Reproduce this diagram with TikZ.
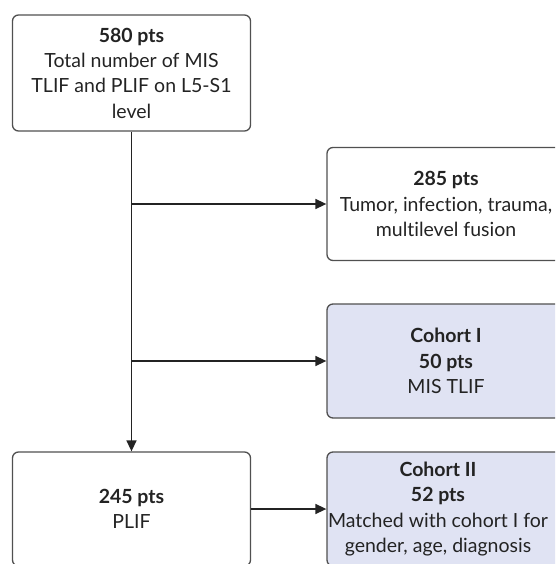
\documentclass[tikz,border=0pt]{standalone}
\usepackage{fontspec}
\setmainfont{Lato}[Ligatures=NoCommon]
\usetikzlibrary{arrows.meta}
\definecolor{cohortfill}{RGB}{224,227,243}
\definecolor{framegray}{RGB}{80,80,80}
\definecolor{inkgray}{RGB}{35,35,35}
\begin{document}
\begin{tikzpicture}[x=1pt,y=-1pt,
  box/.style={draw=framegray,line width=1.3pt,rounded corners=6pt,
    minimum width=238pt,minimum height=114pt,align=center,text=inkgray,
    font=\fontsize{19.5}{25.3}\selectfont},
  cohortbox/.style={box,fill=cohortfill},
  flow/.style={draw=inkgray,line width=1.5pt,-{Triangle[length=11pt,width=10pt]}}]
\useasboundingbox (0,0) rectangle (555,564);
\clip (0,0) rectangle (555,564);
% left column
\node[box,minimum height=116pt] (total) at (131.5,73)
  {\textbf{580 pts}\\Total number of MIS\\TLIF and PLIF on L5-S1\\level};
\node[box] (plif) at (131.5,509) {\textbf{245 pts}\\PLIF};
% right column
\node[box,minimum height=113pt] (excl) at (446,204)
  {\textbf{285 pts}\\Tumor, infection, trauma,\\multilevel fusion};
\node[cohortbox] (cohortI) at (446,361)
  {\textbf{Cohort I}\\\textbf{50 pts}\\MIS TLIF};
\node[cohortbox] (cohortII) at (446,509) {};
\node[align=center,text=inkgray,font=\fontsize{19.5}{25.3}\selectfont] (cohortIItext) at (438,509)
  {\textbf{Cohort II}\\\textbf{52 pts}\\Matched with cohort I for\\gender, age, diagnosis};
% connectors
\coordinate (split1) at (total.south |- excl.west);
\coordinate (split2) at (total.south |- cohortI.west);
\draw[flow] (total.south) -- (plif.north);
\draw[flow] (split1) -- (excl.west);
\draw[flow] (split2) -- (cohortI.west);
\draw[flow] (plif.east) -- (cohortII.west);
\end{tikzpicture}
\end{document}
